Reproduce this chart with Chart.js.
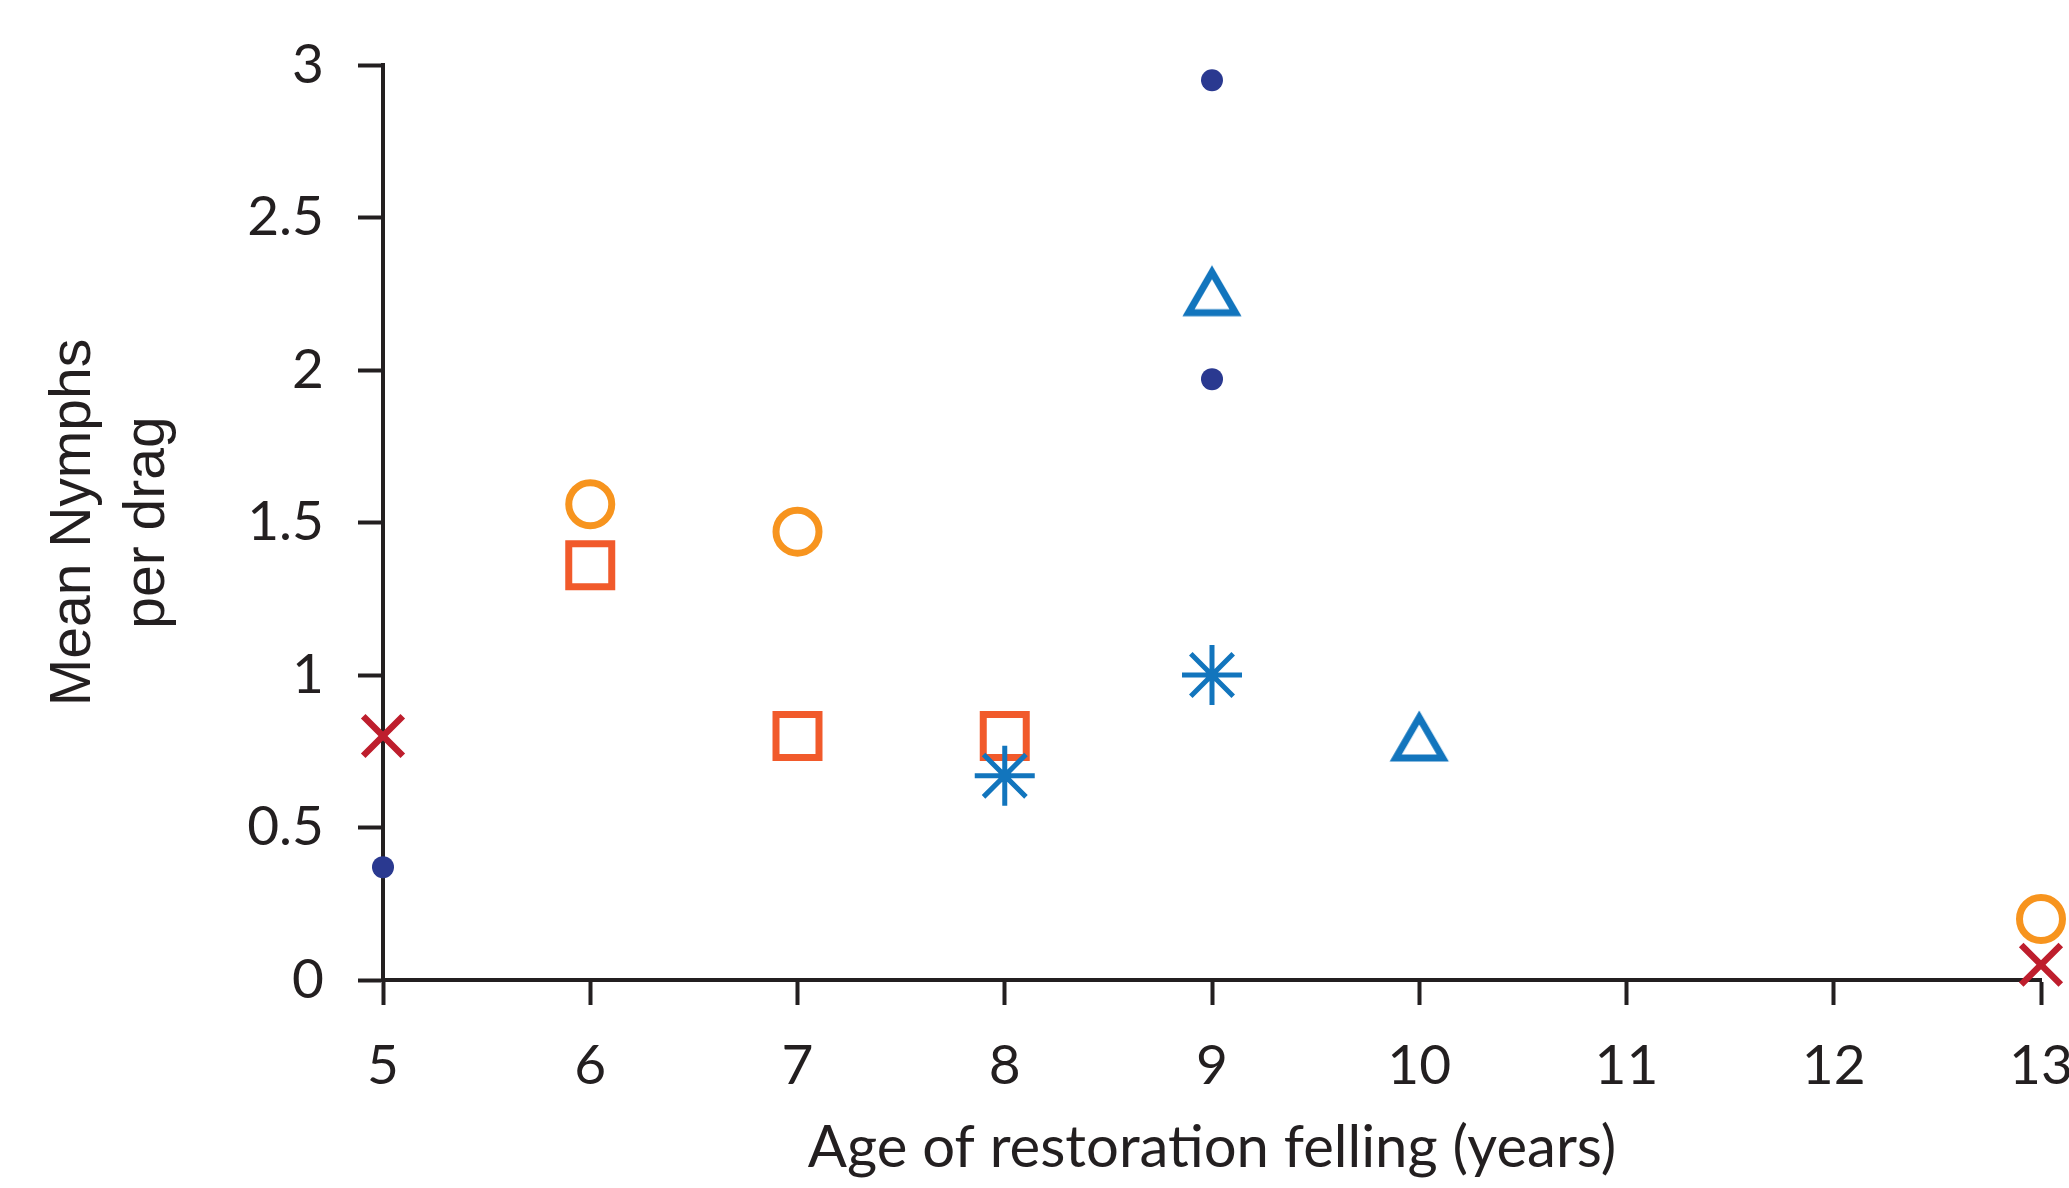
<!DOCTYPE html>
<html>
<head>
<meta charset="utf-8">
<script src="https://cdn.jsdelivr.net/npm/chart.js@4.4.1/dist/chart.umd.min.js"></script>
<style>
  html, body { margin: 0; padding: 0; background: #ffffff; }
  #wrap { width: 2069px; height: 1188px; }
</style>
</head>
<body>
<div id="wrap"><canvas id="c" width="2069" height="1188"></canvas></div>
<script>
// ---- Data ----
const xTickValues = [5, 6, 7, 8, 9, 10, 11, 12, 13];
const yTickValues = [0, 0.5, 1, 1.5, 2, 2.5, 3];
const xTitle = 'Age of restoration felling (years)';
const yTitle = ['Mean Nymphs', 'per drag'];

const asteriskX = [8, 9];
const asteriskY = [0.67, 1.0];
const dotX = [5, 9, 9];
const dotY = [0.37, 2.95, 1.97];
const triangleX = [9, 10];
const triangleY = [2.26, 0.80];
const squareX = [6, 7, 8];
const squareY = [1.36, 0.80, 0.80];
const circleX = [6, 7, 13];
const circleY = [1.56, 1.47, 0.20];
const crossX = [5, 13];
const crossY = [0.80, 0.05];

const pts = (xs, ys) => xs.map((x, i) => ({ x: x, y: ys[i] }));

// ---- Styles ----
const INK = '#231f20';
const NAVY = '#2a3990';
const BLUE = '#1275bd';
const RED_ORANGE = '#f15a2b';
const ORANGE = '#f7941e';
const RED = '#be1e2d';

// triangle marker centred on its bounding box
function makeTriangle(color) {
  const cv = document.createElement('canvas');
  cv.width = 72; cv.height = 64;
  const g = cv.getContext('2d');
  const w = 47, h = 40.7;
  const cx = 36, topY = 13.4, botY = topY + h;
  g.strokeStyle = color;
  g.lineWidth = 7;
  g.lineJoin = 'miter';
  g.beginPath();
  g.moveTo(cx, topY);
  g.lineTo(cx + w / 2, botY);
  g.lineTo(cx - w / 2, botY);
  g.closePath();
  g.stroke();
  return cv;
}
const triImg = makeTriangle(BLUE);

const fixY = (s) => { s.width = 383; s.paddingTop = 0; s.paddingBottom = 0; };
const fixX = (s) => { s.height = 208; s.paddingLeft = 0; s.paddingRight = 0; };

new Chart(document.getElementById('c'), {
  type: 'scatter',
  data: {
    datasets: [
      { label: 'asterisk', data: pts(asteriskX, asteriskY), pointStyle: 'star',
        pointRadius: 30, borderColor: BLUE, backgroundColor: BLUE, borderWidth: 5, clip: false },
      { label: 'dots', data: pts(dotX, dotY), pointStyle: 'circle',
        pointRadius: 11, borderWidth: 0, backgroundColor: NAVY, borderColor: NAVY, clip: false },
      { label: 'triangles', data: pts(triangleX, triangleY), pointStyle: triImg,
        pointRadius: 30, borderWidth: 0, backgroundColor: BLUE, borderColor: BLUE, clip: false },
      { label: 'squares', data: pts(squareX, squareY), pointStyle: 'rect',
        pointRadius: 30.4, borderWidth: 7, borderColor: RED_ORANGE, backgroundColor: 'rgba(0,0,0,0)', clip: false },
      { label: 'circles', data: pts(circleX, circleY), pointStyle: 'circle',
        pointRadius: 21.5, borderWidth: 7, borderColor: ORANGE, backgroundColor: 'rgba(0,0,0,0)', clip: false },
      { label: 'crosses', data: pts(crossX, crossY), pointStyle: 'crossRot',
        pointRadius: 28, borderWidth: 6.5, borderColor: RED, backgroundColor: RED, clip: false }
    ]
  },
  options: {
    responsive: false,
    devicePixelRatio: 1,
    animation: false,
    events: [],
    layout: { autoPadding: false, padding: { left: 0, top: 65, right: 28, bottom: 0 } },
    plugins: { legend: { display: false }, tooltip: { enabled: false } },
    scales: {
      x: {
        type: 'linear',
        min: 5, max: 13,
        afterBuildTicks: (s) => { s.ticks = xTickValues.map(v => ({ value: v })); },
        afterFit: fixX,
        border: { display: true, color: INK, width: 4 },
        grid: { drawOnChartArea: false, drawTicks: true, tickLength: 25, tickWidth: 4, tickColor: INK },
        ticks: {
          color: INK, padding: 28, maxRotation: 0, autoSkip: false,
          font: { family: 'Lato', size: 55 },
          callback: (v) => String(v)
        },
        title: {
          display: true, text: xTitle, color: INK,
          font: { family: 'Lato', size: 58, lineHeight: 1.2 },
          padding: { top: 0, bottom: 5 }
        }
      },
      y: {
        type: 'linear',
        min: 0, max: 3,
        afterBuildTicks: (s) => { s.ticks = yTickValues.map(v => ({ value: v })); },
        afterFit: fixY,
        border: { display: true, color: INK, width: 4 },
        grid: { drawOnChartArea: false, drawTicks: true, tickLength: 25, tickWidth: 4, tickColor: INK },
        ticks: {
          color: INK, padding: 34, autoSkip: false,
          font: { family: 'Lato', size: 55 },
          callback: (v) => String(v)
        },
        title: {
          display: true, text: yTitle, color: INK,
          font: { family: 'Liberation Sans', size: 57, lineHeight: 1.3 },
          padding: { top: 37, bottom: 0 }
        }
      }
    }
  }
});
</script>
</body>
</html>
